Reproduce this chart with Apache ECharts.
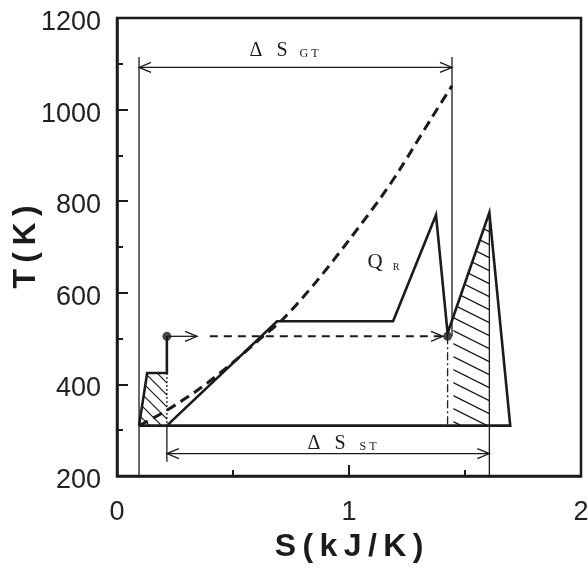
<!DOCTYPE html>
<html>
<head>
<meta charset="utf-8">
<script src="https://cdn.jsdelivr.net/npm/echarts@6/dist/echarts.min.js"></script>
<style>
  html, body { margin: 0; padding: 0; background: #ffffff; }
  #chart { width: 588px; height: 568px; }
</style>
</head>
<body>
<div id="chart"></div>
<script>
// T–S diagram: gas turbine exhaust heat recovered by a steam cycle

// axis ticks
const xTicks = [0, 1, 2];
const yTicks = [200, 400, 600, 800, 1000, 1200];

// gas-turbine exhaust cooling line (dashed)
const gasS = [0.095, 0.21, 0.36, 0.50, 0.60, 0.72, 0.86, 1.00, 1.14, 1.22, 1.36, 1.444];
const gasT = [310, 342, 392, 448, 492, 545, 625, 715, 810, 870, 985, 1052];

// steam cycle outline
const steamS = [0.215, 0.69, 1.19, 1.375, 1.425, 1.605, 1.695, 0.095];
const steamT = [310, 538, 538, 770, 512, 775, 310, 310];

// low-temperature branch ending at the marked state
const lowS = [0.095, 0.13, 0.215, 0.215];
const lowT = [310, 425, 425, 505];

// marked states joined by the dashed heat-transfer arrow
const stateS = [0.215, 1.425];
const stateT = [505, 505];

// hatched regions
const leftHatchS = [0.095, 0.13, 0.215, 0.215];
const leftHatchT = [310, 425, 425, 310];
const rightHatchS = [1.45, 1.605, 1.605, 1.45];
const rightHatchT = [548, 775, 310, 310];

// entropy spans
const gtSpanS = [0.095, 1.444];
const gtSpanT = [1115, 1092];   // top of guide lines, arrow level
const stSpanS = [0.215, 1.605];
const stSpanT = [231, 249];     // bottom of left guide, arrow level

const INK = '#1b1b1b';
const NUM_FONT = "'Liberation Sans', Arial, sans-serif";
const SERIF = "'Liberation Serif', 'DejaVu Serif', serif";

const pairs = (S, T) => S.map((s, i) => [s, T[i]]);

function hatchTile(w, h, lw) {
  const c = document.createElement('canvas');
  c.width = w; c.height = h;
  const g = c.getContext('2d');
  g.strokeStyle = INK;
  g.lineWidth = lw;
  for (const off of [-h, 0, h]) {
    g.beginPath();
    g.moveTo(-w, off - h);
    g.lineTo(2 * w, off + 2 * h);
    g.stroke();
  }
  return c;
}

function polygonSeries(S, T, tile) {
  return {
    type: 'custom', silent: true, clip: false, z: 1,
    data: [[S[0], T[0]]],
    renderItem(params, api) {
      const pts = S.map((s, i) => api.coord([s, T[i]]));
      return {
        type: 'polygon',
        shape: { points: pts },
        style: { fill: { image: tile, repeat: 'repeat' }, stroke: null }
      };
    }
  };
}

function lineSeries(data, width, type, z) {
  return {
    type: 'line', data, showSymbol: false, silent: true, z: z || 3,
    lineStyle: { color: INK, width, type: type || 'solid', cap: 'butt', join: 'miter' },
    animation: false
  };
}

// horizontal arrow with open heads; heads: [atStart, atEnd]
function arrowSeries(s0, s1, t, heads, width, dash) {
  return {
    type: 'custom', silent: true, clip: false, z: 4,
    data: [[s0, t]],
    renderItem(params, api) {
      const a = api.coord([s0, t]);
      const b = api.coord([s1, t]);
      const st = { stroke: INK, lineWidth: width, fill: null, lineDash: dash || null };
      const hs = { stroke: INK, lineWidth: 1.3, fill: null };
      const children = [{ type: 'line', shape: { x1: a[0], y1: a[1], x2: b[0], y2: b[1] }, style: st }];
      if (heads[0]) children.push({ type: 'polyline', shape: { points: [[a[0] + 12, a[1] - 5], [a[0], a[1]], [a[0] + 12, a[1] + 5]] }, style: hs });
      if (heads[1]) children.push({ type: 'polyline', shape: { points: [[b[0] - 12, b[1] - 5], [b[0], b[1]], [b[0] - 12, b[1] + 5]] }, style: hs });
      return { type: 'group', children };
    }
  };
}

function txt(x, y, text, size) {
  return {
    type: 'text', x, y, silent: true,
    style: { text, font: size + 'px ' + SERIF, fill: INK, align: 'center', verticalAlign: 'middle', textAlign: 'center', textVerticalAlign: 'middle' }
  };
}

const chart = echarts.init(document.getElementById('chart'), null, { renderer: 'canvas' });

const option = {
  animation: false,
  backgroundColor: '#ffffff',
  grid: {
    left: 117, right: 7, top: 18, bottom: 92,
    containLabel: false, outerBoundsMode: 'none',
    show: true, borderColor: INK, borderWidth: 2.5, backgroundColor: 'transparent'
  },
  xAxis: {
    type: 'value', min: xTicks[0], max: xTicks[xTicks.length - 1], interval: xTicks[1] - xTicks[0],
    axisLine: { show: true, onZero: false, lineStyle: { color: INK, width: 2.5 } },
    axisTick: { show: true, inside: true, length: 11, lineStyle: { color: INK, width: 2 } },
    minorTick: { show: true, splitNumber: 2, length: 6, lineStyle: { color: INK, width: 2 } },
    splitLine: { show: false },
    axisLabel: { fontSize: 27, color: '#222', fontFamily: NUM_FONT, margin: 23, formatter: v => String(v) },
    name: 'S\u2009(\u2009k\u2009J\u2009/\u2009K\u2009)',
    nameLocation: 'middle', nameGap: 54,
    nameTextStyle: { fontSize: 32, fontWeight: 'bold', fontFamily: "'Liberation Sans', Arial, sans-serif", color: INK }
  },
  yAxis: {
    type: 'value', min: yTicks[0], max: yTicks[yTicks.length - 1], interval: yTicks[1] - yTicks[0],
    axisLine: { show: true, onZero: false, lineStyle: { color: INK, width: 2.5 } },
    axisTick: { show: true, inside: true, length: 11, lineStyle: { color: INK, width: 2 } },
    minorTick: { show: true, splitNumber: 2, length: 6, lineStyle: { color: INK, width: 2 } },
    splitLine: { show: false },
    axisLabel: {
      color: '#222', margin: 16,
      formatter: v => '{n|' + v + '}',
      rich: { n: { fontSize: 27, fontFamily: NUM_FONT, color: '#222', padding: [9, 0, 0, 0] } }
    },
    name: 'T\u2009(\u2009K\u2009)',
    nameLocation: 'middle', nameGap: 75, nameRotate: 90, nameMoveOverlap: false,
    nameTextStyle: { fontSize: 32, fontWeight: 'bold', fontFamily: "'Liberation Sans', Arial, sans-serif", color: INK }
  },
  series: [
    polygonSeries(leftHatchS, leftHatchT, hatchTile(12, 12, 1.2)),
    polygonSeries(rightHatchS, rightHatchT, hatchTile(26, 13, 1.3)),

    // guide lines of the entropy spans
    lineSeries([[gtSpanS[0], gtSpanT[0]], [gtSpanS[0], yTicks[0]]], 1.3),
    lineSeries([[gtSpanS[1], gtSpanT[0]], [gtSpanS[1], stateT[1]]], 1.3),
    lineSeries([[stSpanS[0], steamT[0]], [stSpanS[0], stSpanT[0]]], 1.3),
    lineSeries([[stSpanS[1], steamT[5]], [stSpanS[1], yTicks[0]]], 1.3),
    lineSeries([[stateS[1], stateT[1]], [stateS[1], steamT[0]]], 1.3, [8, 3, 2, 3]),
    lineSeries([[lowS[2], lowT[2]], [lowS[2], steamT[0]]], 1.3, [2, 2]),

    // cycle lines
    lineSeries(pairs(steamS, steamT), 2.6, 'solid', 5),
    lineSeries(pairs(lowS, lowT), 2.6, 'solid', 5),
    Object.assign(lineSeries(pairs(gasS, gasT), 3, [10, 6], 5), { smooth: 0.3 }),

    // entropy span arrows
    arrowSeries(gtSpanS[0], gtSpanS[1], gtSpanT[1], [true, true], 1.3),
    arrowSeries(stSpanS[0], stSpanS[1], stSpanT[1], [true, true], 1.3),

    // heat transfer between the marked states
    arrowSeries(stateS[0], 0.345, stateT[0], [false, true], 1.3),
    arrowSeries(0.40, stateS[1] - 0.02, stateT[0], [false, true], 2, [8, 6]),
    {
      type: 'scatter', data: pairs(stateS, stateT), symbol: 'circle', symbolSize: 9,
      itemStyle: { color: INK }, z: 6, silent: true
    }
  ],
  graphic: [
    txt(256, 51, 'Δ', 20), txt(282, 51, 'S', 20), txt(309, 54, 'G T', 12),
    txt(314, 444, 'Δ', 20), txt(340, 444, 'S', 20), txt(368, 447, 'S T', 12),
    txt(375, 262, 'Q', 21), txt(396, 267, 'R', 10)
  ]
};

chart.setOption(option);
</script>
</body>
</html>
